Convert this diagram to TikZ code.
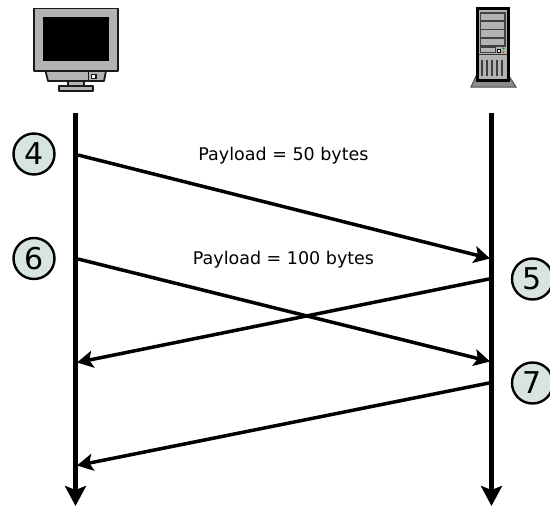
\documentclass[tikz,border=0pt]{standalone}
\usepackage{fontspec}
\setmainfont{DejaVu Sans}
\usetikzlibrary{arrows.meta}
\definecolor{stepfill}{HTML}{D8E4E2}
\definecolor{devgrey}{HTML}{B3B3B3}
\definecolor{devdark}{HTML}{1A1A1A}
\definecolor{basegrey}{HTML}{8C8C8C}
\tikzset{
  lifeline/.style={line width=5.5pt,-{Stealth[length=20pt,width=21pt,inset=4pt]}},
  message/.style={line width=3.5pt,-{Stealth[length=16pt,width=17pt,inset=3.5pt]}},
  stepcircle/.style={circle,draw=black,line width=2.4pt,fill=stepfill,minimum size=41pt,inner sep=0pt,font=\fontsize{30}{30}\selectfont},
  payload/.style={inner sep=0pt,font=\fontsize{17.5}{19}\selectfont},
  devpart/.style={draw=devdark,fill=devgrey,line width=1.8pt,line join=round},
  srvline/.style={draw=black!75,line width=1.4pt}
}
\begin{document}
\begin{tikzpicture}[x=1pt,y=-1pt]
\useasboundingbox (0,0) rectangle (550,506);
\clip (0,0) rectangle (550,506);
% monitor
\draw[devpart] (68,81) rectangle (84,86);
\draw[devpart] (59,86) rectangle (93,91);
\draw[devpart] (45.5,71) -- (106,71) -- (104,81) -- (48,81) -- cycle;
\draw[devdark,line width=1.8pt] (88.5,71) -- (88.5,81);
\draw[draw=devdark,fill=white,line width=1.4pt] (91.5,74.5) rectangle (96,78.5);
\draw[devpart] (34,8.5) rectangle (118,71);
\fill[black] (43,17) rectangle (109,61);
% server
\draw[draw=black!70,fill=basegrey,line width=1pt] (476,76) -- (471,87) -- (516,87) -- (509,76) -- cycle;
\draw[draw=black,fill=devgrey,line width=3pt] (477.5,8.5) rectangle (508,80);
\draw[srvline] (480.5,13) rectangle (505,46);
\draw[srvline] (480.5,21) -- (505,21);
\draw[srvline] (480.5,29.5) -- (505,29.5);
\draw[srvline] (480.5,38) -- (505,38);
\draw[draw=black!75,fill=devgrey,line width=1.1pt] (480.5,47.5) rectangle (495.5,52.5);
\fill[white] (497,49) rectangle (500.5,52.5);
\draw[black,line width=0.6pt] (497,49) rectangle (500.5,52.5);
\fill[green!60!black] (503.5,48.5) circle (1.1pt);
\fill[orange!70!black] (503.5,52) circle (1.1pt);
\draw[black!80,line width=1.1pt] (479,54.5) -- (507,54.5);
\foreach \x in {482,487,492,497,502} \draw[black!75,line width=1.3pt] (\x,60) -- (\x,76);
% lifelines
\coordinate (clienttop) at (75.5,113);
\coordinate (clientend) at (75.5,506);
\coordinate (servertop) at (491.5,113);
\coordinate (serverend) at (491.5,506);
\draw[lifeline] (clienttop) -- (clientend);
\draw[lifeline] (servertop) -- (serverend);
% messages
\coordinate (m1s) at (78,155);
\coordinate (m1e) at (490,258.5);
\coordinate (m2s) at (489,279);
\coordinate (m2e) at (77,362.5);
\coordinate (m3s) at (78,259);
\coordinate (m3e) at (490,361.5);
\coordinate (m4s) at (489,383);
\coordinate (m4e) at (77,465.5);
\draw[message] (m1s) -- (m1e);
\draw[message] (m2s) -- (m2e);
\draw[message] (m3s) -- (m3e);
\draw[message] (m4s) -- (m4e);
% step circles
\node[stepcircle] (s4) at (34,154) {4};
\node[stepcircle] (s6) at (34,258.5) {6};
\node[stepcircle] (s5) at (532.5,279) {5};
\node[stepcircle] (s7) at (532.5,383) {7};
% labels
\node[payload] (p50) at (283.5,155.5) {Payload = 50 bytes};
\node[payload] (p100) at (283.5,259.5) {Payload = 100 bytes};
\end{tikzpicture}
\end{document}
